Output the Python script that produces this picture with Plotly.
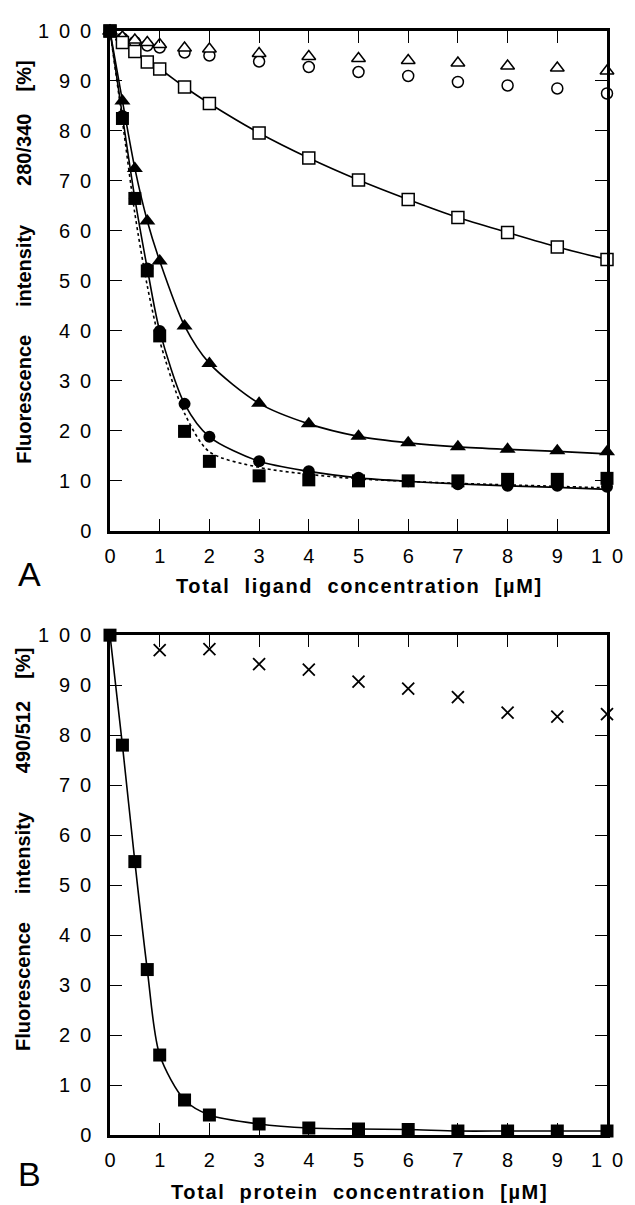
import plotly.graph_objects as go

# ---------------- Panel A data ----------------
xA = [0, 0.25, 0.5, 0.75, 1, 1.5, 2, 3, 4, 5, 6, 7, 8, 9, 10]
open_tri_A = [100, 98.8, 98.2, 97.7, 97.3, 96.6, 96.4, 95.5, 94.9, 94.5, 94.1, 93.6, 93.0, 92.6, 92.0]
open_circ_A = [100, 98.5, 97.8, 97.1, 96.7, 95.7, 95.1, 93.9, 92.8, 91.8, 91.0, 89.8, 89.1, 88.5, 87.5]
open_sq_A = [100, 97.7, 95.9, 93.8, 92.4, 88.8, 85.5, 79.6, 74.6, 70.2, 66.3, 62.7, 59.7, 56.8, 54.3]
fill_tri_A = [100, 86.0, 72.5, 62.0, 54.0, 41.0, 33.5, 25.5, 21.4, 18.9, 17.6, 16.8, 16.3, 16.0, 15.8]
fill_circ_A = [100, 83.0, 66.5, 52.5, 40.0, 25.4, 18.8, 13.9, 11.9, 10.6, 9.9, 9.3, 9.0, 9.0, 8.8]
fill_sq_A = [100, 82.5, 66.5, 52.0, 39.0, 19.9, 13.9, 11.0, 10.2, 10.0, 10.0, 10.0, 10.3, 10.3, 10.5]
fit_sq_A = [100, 82.0, 63.5, 49.0, 38.0, 23.5, 15.8, 12.7, 11.3, 10.4, 9.9, 9.5, 9.2, 8.9, 8.6]
fit_circ_A = [100, 83.0, 66.5, 52.5, 40.0, 25.4, 18.8, 13.9, 11.9, 10.6, 9.9, 9.4, 9.0, 8.7, 8.3]
fit_tri_A = [100, 86.0, 72.5, 62.0, 54.0, 41.0, 33.5, 25.5, 21.4, 18.9, 17.6, 16.8, 16.3, 15.9, 15.4]

# ---------------- Panel B data ----------------
xB = [0, 0.25, 0.5, 0.75, 1, 1.5, 2, 3, 4, 5, 6, 7, 8, 9, 10]
fill_sq_B = [100, 78.0, 54.7, 33.1, 16.0, 7.0, 4.0, 2.2, 1.4, 1.2, 1.1, 0.8, 0.8, 0.8, 0.8]
xB_cross = [1, 2, 3, 4, 5, 6, 7, 8, 9, 10]
cross_B = [97.0, 97.2, 94.2, 93.1, 90.7, 89.3, 87.6, 84.5, 83.7, 84.2]

# ---------------- tick labels / titles ----------------
SP = "\u2002"
y_tickvals = [0, 10, 20, 30, 40, 50, 60, 70, 80, 90, 100]
y_ticktext = ["0"] + [SP.join(str(v)) for v in y_tickvals[1:]]
x_tickvals = [0, 1, 2, 3, 4, 5, 6, 7, 8, 9, 10]
x_ticktext = [SP.join(str(v)) for v in x_tickvals]
NB = "\u00a0"
GX = NB * 2

def ytitle(ratio):
    return "Fluorescence" + NB * 5 + "intensity" + NB * 7 + ratio + NB * 4 + "[%]"

ytitle_A = ytitle("280/340")
ytitle_B = ytitle("490/512")
xtitle_A = GX.join(["Total", "ligand", "concentration", "[\u00b5M]"])
xtitle_B = GX.join(["Total", "protein", "concentration", "[\u00b5M]"])

FONT = "Liberation Sans, Arial, sans-serif"
BLK = "black"

fig = go.Figure()

def line(x, y, xa, ya, dash="solid"):
    fig.add_trace(go.Scatter(x=x, y=y, mode="lines", xaxis=xa, yaxis=ya,
                             line=dict(color=BLK, width=1.6, shape="spline", smoothing=0.8, dash=dash),
                             hoverinfo="skip", cliponaxis=False))

def markers(x, y, xa, ya, symbol, size, fill, lw=1.5):
    fig.add_trace(go.Scatter(x=x, y=y, mode="markers", xaxis=xa, yaxis=ya, cliponaxis=False,
                             marker=dict(symbol=symbol, size=size, color=fill,
                                         line=dict(color=BLK, width=lw))))

# Panel A curves
line(xA, open_sq_A, "x", "y")
line(xA, fit_tri_A, "x", "y")
line(xA, fit_circ_A, "x", "y")
line(xA, fit_sq_A, "x", "y", dash="dot")
# Panel A markers
markers(xA, open_circ_A, "x", "y", "circle", 11, "white")
markers(xA, open_tri_A, "x", "y", "triangle-up", 12, "white")
markers(xA, open_sq_A, "x", "y", "square", 12, "white")
markers(xA, fill_circ_A, "x", "y", "circle", 12, BLK, 0)
markers(xA, fill_tri_A, "x", "y", "triangle-up", 14, BLK, 0)
markers(xA, fill_sq_A, "x", "y", "square", 13, BLK, 0)

# Panel B
line(xB, fill_sq_B, "x2", "y2")
markers(xB, fill_sq_B, "x2", "y2", "square", 13, BLK, 0)
fig.add_trace(go.Scatter(x=xB_cross, y=cross_B, mode="markers", xaxis="x2", yaxis="y2", cliponaxis=False,
                         marker=dict(symbol="x-thin-open", size=12, color=BLK, line=dict(color=BLK, width=1.8))))

axis_common = dict(showline=True, linecolor=BLK, linewidth=2.5, mirror="ticks",
                   ticks="inside", ticklen=12, tickwidth=1.3, tickcolor=BLK,
                   showgrid=False, zeroline=False,
                   tickfont=dict(family=FONT, size=20, color=BLK))

TOT = 1111
dA = [(1135 - 527) / TOT, 1.0]
dB = [0.0, (1135 - 632) / TOT]

# page body adds an 8 px offset; layout sized so the plot areas land on the reference pixels
fig.update_layout(
    width=627, height=1197,
    margin=dict(l=102, r=21, t=16, b=70),
    plot_bgcolor="white", paper_bgcolor="white",
    showlegend=False,
    xaxis=dict(domain=[0, 1], anchor="y", range=[0, 10], tickvals=x_tickvals, ticktext=x_ticktext,
               ticklabelstandoff=5, **axis_common),
    yaxis=dict(domain=dA, anchor="x", range=[0, 100], tickvals=y_tickvals, ticktext=y_ticktext,
               ticklabelstandoff=12, **axis_common),
    xaxis2=dict(domain=[0, 1], anchor="y2", range=[0, 10], tickvals=x_tickvals, ticktext=x_ticktext,
                ticklabelstandoff=5, **axis_common),
    yaxis2=dict(domain=dB, anchor="x2", range=[0, 100], tickvals=y_tickvals, ticktext=y_ticktext,
                ticklabelstandoff=12, **axis_common),
)

def px_x(p):
    return (p - 110) / 504.0

def px_y(p):
    return (1135 - p) / TOT

XSTYLE = '<span style="letter-spacing:1.6px"><b>%s</b></span>'
ann = []
ann.append(dict(text="<b>%s</b>" % ytitle_A, x=px_x(22), y=px_y(256), xref="paper", yref="paper",
                textangle=-90, showarrow=False, font=dict(family=FONT, size=20, color=BLK),
                xanchor="center", yanchor="middle"))
ann.append(dict(text="<b>%s</b>" % ytitle_B, x=px_x(22), y=px_y(847), xref="paper", yref="paper",
                textangle=-90, showarrow=False, font=dict(family=FONT, size=20, color=BLK),
                xanchor="center", yanchor="middle"))
ann.append(dict(text=XSTYLE % xtitle_A, x=px_x(363), y=px_y(583), xref="paper", yref="paper",
                showarrow=False, font=dict(family=FONT, size=20, color=BLK),
                xanchor="center", yanchor="middle"))
ann.append(dict(text=XSTYLE % xtitle_B, x=px_x(363), y=px_y(1192), xref="paper", yref="paper",
                showarrow=False, font=dict(family=FONT, size=20, color=BLK),
                xanchor="center", yanchor="middle"))
ann.append(dict(text="A", x=px_x(28), y=px_y(570), xref="paper", yref="paper",
                showarrow=False, font=dict(family=FONT, size=34, color=BLK),
                xanchor="center", yanchor="middle"))
ann.append(dict(text="B", x=px_x(28), y=px_y(1174), xref="paper", yref="paper",
                showarrow=False, font=dict(family=FONT, size=34, color=BLK),
                xanchor="center", yanchor="middle"))
fig.update_layout(annotations=ann)

fig.write_html("out.html")
